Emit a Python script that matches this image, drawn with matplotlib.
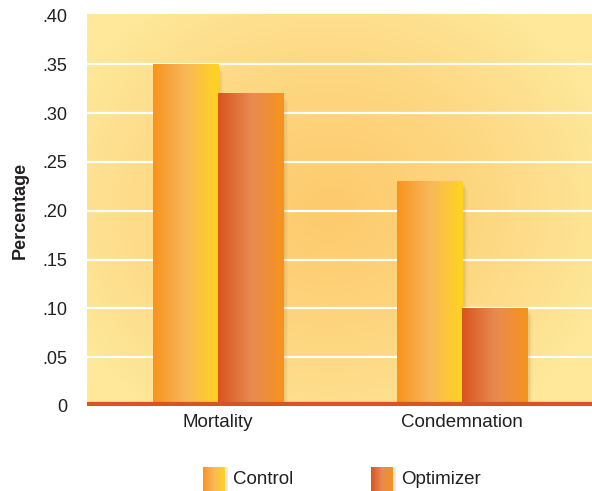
import numpy as np
import matplotlib.pyplot as plt
from matplotlib.colors import LinearSegmentedColormap

categories = ['Mortality', 'Condemnation']
control    = [0.35, 0.23]
optimizer  = [0.32, 0.10]
series     = ['Control', 'Optimizer']
yticks     = [0, 0.05, 0.10, 0.15, 0.20, 0.25, 0.30, 0.35, 0.40]
ytick_lbls = ['0', '.05', '.10', '.15', '.20', '.25', '.30', '.35', '.40']

plt.rcParams['font.family'] = ['Liberation Sans', 'DejaVu Sans']

ctrl_cmap = LinearSegmentedColormap.from_list('ctrl', ['#F7941D', '#F9B75C', '#FFD41E'])
opt_cmap  = LinearSegmentedColormap.from_list('opt',  ['#D9541E', '#E88A52', '#F7941D'])
bg_cmap   = LinearSegmentedColormap.from_list('bg',   ['#FDCA6C', '#FDD680', '#FEE89A'])
txt_col   = '#231F20'
#-------------------------------------
def _grad_rect(ax, x0, x1, y0, y1, cmap, zorder):
    grad = np.linspace(0, 1, 128).reshape(1, -1)
    ax.imshow(grad, cmap=cmap, extent=[x0, x1, y0, y1], aspect='auto',
              interpolation='bilinear', zorder=zorder)
#-------------------------------------
def _shadow(ax, x1, y1, zorder):
    for i, alpha in enumerate([0.10, 0.07, 0.05, 0.03]):
        off = 0.006 * (i + 1)
        ax.add_patch(plt.Rectangle((x1, 0), off, y1 - 0.002 * (i + 1), color='#6b4a10',
                                   alpha=alpha, lw=0, zorder=zorder))
#-------------------------------------
fig = plt.figure(figsize=(5.92, 4.91), dpi=100)
ax  = fig.add_axes([87 / 592, 85 / 491, 505 / 592, 392 / 491])

xlo, xhi = -0.534, 1.532
ylo, yhi = 0, 0.4015
ax.set_xlim(xlo, xhi)
ax.set_ylim(ylo, yhi)

# background
xx, yy = np.meshgrid(np.linspace(0, 1, 300), np.linspace(0, 1, 300))
dx = (xx - 0.48) / 0.58
dy = (yy - 0.50) / 0.65
rad = np.clip(np.sqrt(dx ** 2 + dy ** 2), 0, 1)
ax.imshow(rad, cmap=bg_cmap, extent=[xlo, xhi, ylo, yhi], aspect='auto',
          origin='lower', interpolation='bilinear', zorder=0)

for yv in yticks[1:-1]:
    ax.axhline(yv, color='white', lw=1.6, zorder=1)

width = 0.266
for i, _ in enumerate(categories):
    for vals, cmap, off in [(control, ctrl_cmap, -width / 2), (optimizer, opt_cmap, width / 2)]:
        x0 = i + off - width / 2
        x1 = i + off + width / 2
        _shadow(ax, x1, vals[i], 2)
        _grad_rect(ax, x0, x1, 0, vals[i], cmap, 3)

ax.axhline(0.0015, color='#D9541E', lw=4.5, zorder=4)

ax.set_xticks(range(len(categories)))
ax.set_xticklabels(categories, fontsize=13.5, color=txt_col)
ax.set_yticks(yticks)
ax.set_yticklabels(ytick_lbls, fontsize=13, color=txt_col)
ax.tick_params(axis='both', length=0)
ax.tick_params(axis='y', pad=14)
ax.tick_params(axis='x', pad=6)
for sp in ax.spines.values():
    sp.set_visible(False)

fig.text(20 / 592, 1 - 210 / 491, 'Percentage', rotation=90, fontsize=13,
         fontweight='bold', color=txt_col, ha='center', va='center')

# legend
lax = fig.add_axes([0, 0, 1, 1], facecolor='none')
lax.set_xlim(0, 592)
lax.set_ylim(491, 0)
lax.axis('off')
for (x0, name, cmap) in [(203, series[0], ctrl_cmap), (371, series[1], opt_cmap)]:
    lax.add_patch(plt.Rectangle((x0 + 22, 467), 3, 24, color='#6b4a10', alpha=0.12, lw=0))
    _grad_rect(lax, x0, x0 + 22, 491, 467, cmap, 3)
    lax.text(x0 + 30, 480, name, fontsize=13.5, color=txt_col, va='center', ha='left')
lax.set_xlim(0, 592)
lax.set_ylim(491, 0)

fig.savefig('out.png', dpi=100)
